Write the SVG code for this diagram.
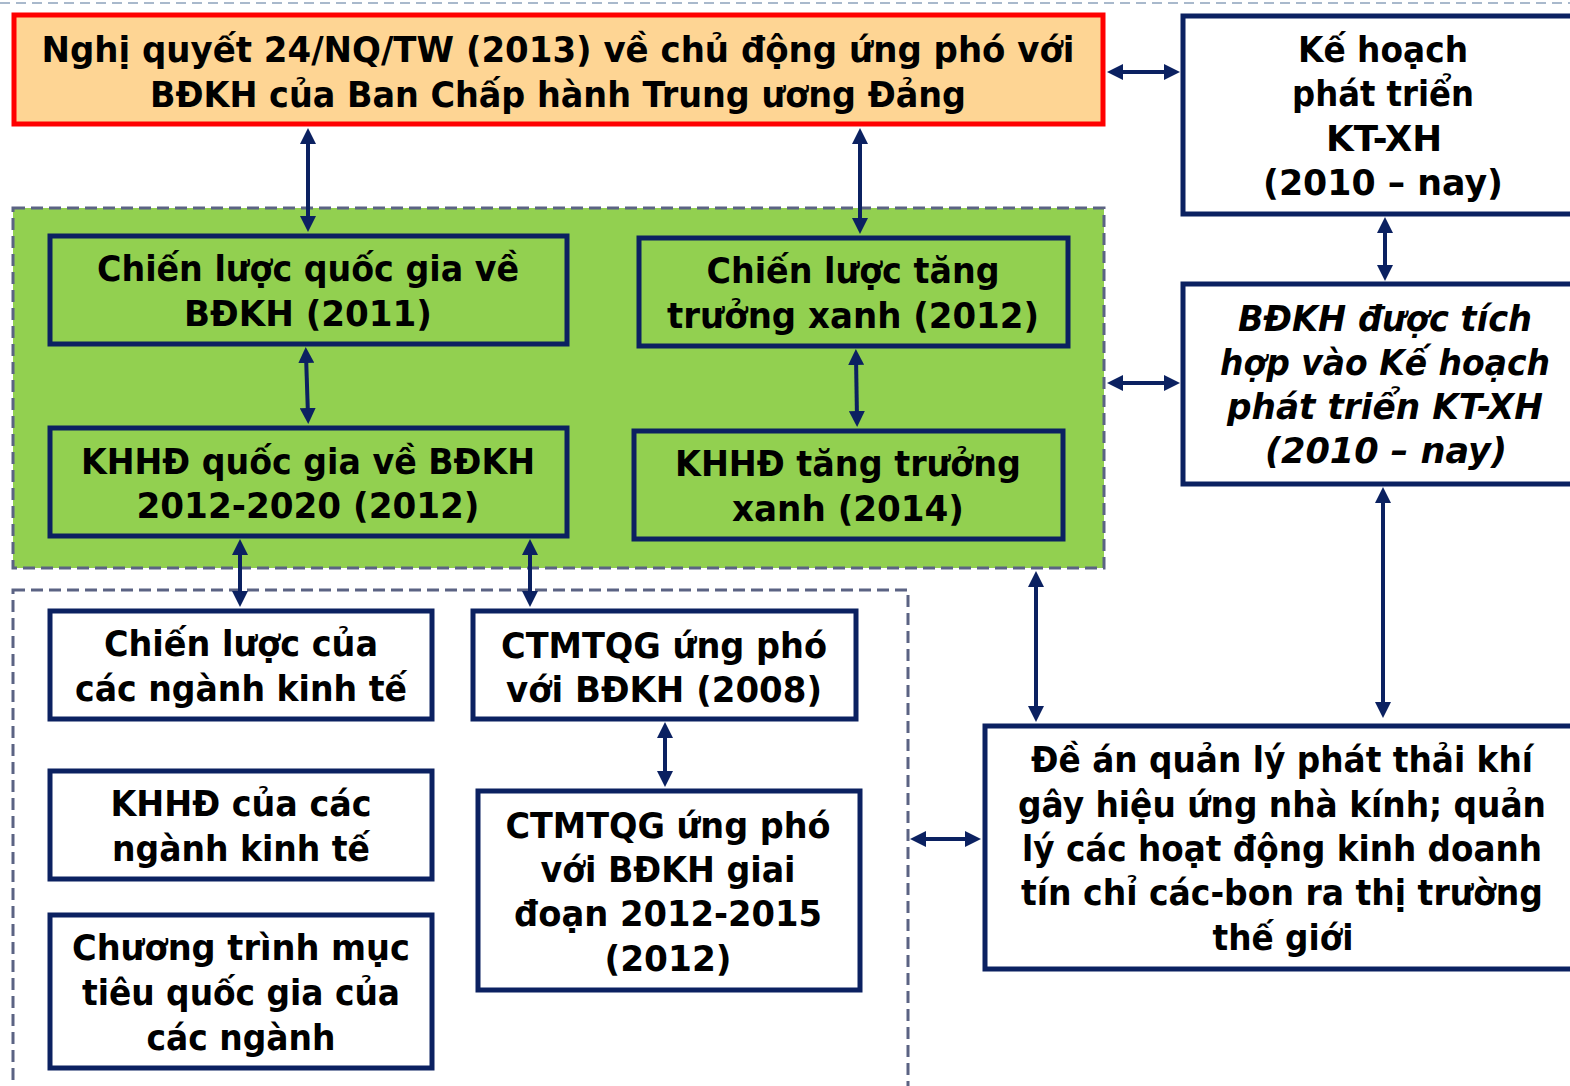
<svg xmlns="http://www.w3.org/2000/svg" width="1570" height="1086" viewBox="0 0 1570 1086">
<style>
.t{font-family:"DejaVu Sans","Liberation Sans",sans-serif;font-weight:bold;font-size:35px;fill:#000;text-anchor:middle}
.i{font-style:italic}
.box{fill:#fff;stroke:#0b2161;stroke-width:5}
.gbox{fill:#92D050;stroke:#0b2161;stroke-width:5}
.cont{stroke:#5b6383;stroke-width:3;stroke-dasharray:12 6}
.con line{stroke:#0b2161;stroke-width:4;marker-start:url(#ah);marker-end:url(#ah)}
</style>
<defs>
<marker id="ah" viewBox="0 0 16 16" refX="8" refY="8" markerWidth="16" markerHeight="16" markerUnits="userSpaceOnUse" orient="auto-start-reverse">
<path d="M0,0 L16,8 L0,16 z" fill="#0b2161"/>
</marker>
</defs>
<rect width="1570" height="1086" fill="#fff"/>
<line x1="0" y1="3" x2="1570" y2="3" stroke="#a9b9cc" stroke-width="2" stroke-dasharray="10 6"/>

<g id="container-green"><rect class="cont" x="13" y="208" width="1091" height="360" fill="#92D050"/></g>
<g id="container-white"><rect class="cont" x="13" y="590" width="895" height="520" fill="none"/></g>

<g id="nghi-quyet">
<rect x="14" y="15" width="1089" height="109" fill="#FED594" stroke="#FF0000" stroke-width="5"/>
<text class="t" x="558" y="62" textLength="1033" lengthAdjust="spacingAndGlyphs">Nghị quyết 24/NQ/TW (2013) về chủ động ứng phó với</text>
<text class="t" x="558" y="107" textLength="816" lengthAdjust="spacingAndGlyphs">BĐKH của Ban Chấp hành Trung ương Đảng</text>
</g>

<g id="ke-hoach">
<rect class="box" x="1183" y="16" width="420" height="198"/>
<text class="t" x="1383" y="62" textLength="170" lengthAdjust="spacingAndGlyphs">Kế hoạch</text>
<text class="t" x="1383" y="106" textLength="182" lengthAdjust="spacingAndGlyphs">phát triển</text>
<text class="t" x="1384" y="151" textLength="116" lengthAdjust="spacingAndGlyphs">KT-XH</text>
<text class="t" x="1383" y="195" textLength="240" lengthAdjust="spacingAndGlyphs">(2010 – nay)</text>
</g>

<g id="bdkh-tich-hop">
<rect class="box" x="1183" y="284" width="420" height="200"/>
<text class="t i" x="1385" y="331" textLength="294" lengthAdjust="spacingAndGlyphs">BĐKH được tích</text>
<text class="t i" x="1385" y="375" textLength="330" lengthAdjust="spacingAndGlyphs">hợp vào Kế hoạch</text>
<text class="t i" x="1385" y="419" textLength="316" lengthAdjust="spacingAndGlyphs">phát triển KT-XH</text>
<text class="t i" x="1386" y="463" textLength="242" lengthAdjust="spacingAndGlyphs">(2010 – nay)</text>
</g>

<g id="chien-luoc-bdkh">
<rect class="gbox" x="50" y="236" width="517" height="108"/>
<text class="t" x="308" y="281" textLength="422" lengthAdjust="spacingAndGlyphs">Chiến lược quốc gia về</text>
<text class="t" x="308" y="326" textLength="248" lengthAdjust="spacingAndGlyphs">BĐKH (2011)</text>
</g>

<g id="chien-luoc-tang-truong">
<rect class="gbox" x="639" y="238" width="429" height="108"/>
<text class="t" x="853" y="283" textLength="293" lengthAdjust="spacingAndGlyphs">Chiến lược tăng</text>
<text class="t" x="853" y="328" textLength="372" lengthAdjust="spacingAndGlyphs">trưởng xanh (2012)</text>
</g>

<g id="khhd-bdkh">
<rect class="gbox" x="50" y="428" width="517" height="108"/>
<text class="t" x="308" y="474" textLength="454" lengthAdjust="spacingAndGlyphs">KHHĐ quốc gia về BĐKH</text>
<text class="t" x="308" y="518" textLength="343" lengthAdjust="spacingAndGlyphs">2012-2020 (2012)</text>
</g>

<g id="khhd-tang-truong">
<rect class="gbox" x="634" y="431" width="429" height="108"/>
<text class="t" x="848" y="476" textLength="346" lengthAdjust="spacingAndGlyphs">KHHĐ tăng trưởng</text>
<text class="t" x="848" y="521" textLength="232" lengthAdjust="spacingAndGlyphs">xanh (2014)</text>
</g>

<g id="chien-luoc-nganh">
<rect class="box" x="50" y="611" width="382" height="108"/>
<text class="t" x="241" y="656" textLength="274" lengthAdjust="spacingAndGlyphs">Chiến lược của</text>
<text class="t" x="241" y="701" textLength="332" lengthAdjust="spacingAndGlyphs">các ngành kinh tế</text>
</g>

<g id="khhd-nganh">
<rect class="box" x="50" y="771" width="382" height="108"/>
<text class="t" x="241" y="816" textLength="261" lengthAdjust="spacingAndGlyphs">KHHĐ của các</text>
<text class="t" x="241" y="861" textLength="258" lengthAdjust="spacingAndGlyphs">ngành kinh tế</text>
</g>

<g id="ctmtqg-nganh">
<rect class="box" x="50" y="915" width="382" height="153"/>
<text class="t" x="241" y="960" textLength="338" lengthAdjust="spacingAndGlyphs">Chương trình mục</text>
<text class="t" x="241" y="1005" textLength="318" lengthAdjust="spacingAndGlyphs">tiêu quốc gia của</text>
<text class="t" x="241" y="1050" textLength="189" lengthAdjust="spacingAndGlyphs">các ngành</text>
</g>

<g id="ctmtqg-2008">
<rect class="box" x="473" y="611" width="383" height="108"/>
<text class="t" x="664" y="658" textLength="326" lengthAdjust="spacingAndGlyphs">CTMTQG ứng phó</text>
<text class="t" x="664" y="702" textLength="316" lengthAdjust="spacingAndGlyphs">với BĐKH (2008)</text>
</g>

<g id="ctmtqg-2012">
<rect class="box" x="478" y="791" width="382" height="199"/>
<text class="t" x="668" y="838" textLength="325" lengthAdjust="spacingAndGlyphs">CTMTQG ứng phó</text>
<text class="t" x="668" y="882" textLength="255" lengthAdjust="spacingAndGlyphs">với BĐKH giai</text>
<text class="t" x="668" y="926" textLength="308" lengthAdjust="spacingAndGlyphs">đoạn 2012-2015</text>
<text class="t" x="668" y="971" textLength="127" lengthAdjust="spacingAndGlyphs">(2012)</text>
</g>

<g id="de-an">
<rect class="box" x="985" y="726" width="620" height="243"/>
<text class="t" x="1282" y="772" textLength="502" lengthAdjust="spacingAndGlyphs">Đề án quản lý phát thải khí</text>
<text class="t" x="1282" y="817" textLength="528" lengthAdjust="spacingAndGlyphs">gây hiệu ứng nhà kính; quản</text>
<text class="t" x="1282" y="861" textLength="520" lengthAdjust="spacingAndGlyphs">lý các hoạt động kinh doanh</text>
<text class="t" x="1282" y="905" textLength="522" lengthAdjust="spacingAndGlyphs">tín chỉ các-bon ra thị trường</text>
<text class="t" x="1283" y="950" textLength="141" lengthAdjust="spacingAndGlyphs">thế giới</text>
</g>

<g id="connectors" class="con">
<line x1="308" y1="136" x2="308" y2="224"/>
<line x1="860" y1="136" x2="860" y2="226"/>
<line x1="1115" y1="72" x2="1172" y2="72"/>
<line x1="1385" y1="225" x2="1385" y2="273"/>
<line x1="1115" y1="383" x2="1172" y2="383"/>
<line x1="306" y1="355" x2="308" y2="416"/>
<line x1="856" y1="357" x2="857" y2="419"/>
<line x1="240" y1="547" x2="240" y2="599"/>
<line x1="530" y1="547" x2="530" y2="599"/>
<line x1="665" y1="730" x2="665" y2="779"/>
<line x1="1036" y1="579" x2="1036" y2="714"/>
<line x1="1383" y1="495" x2="1383" y2="710"/>
<line x1="918" y1="839" x2="973" y2="839"/>
</g>
</svg>
